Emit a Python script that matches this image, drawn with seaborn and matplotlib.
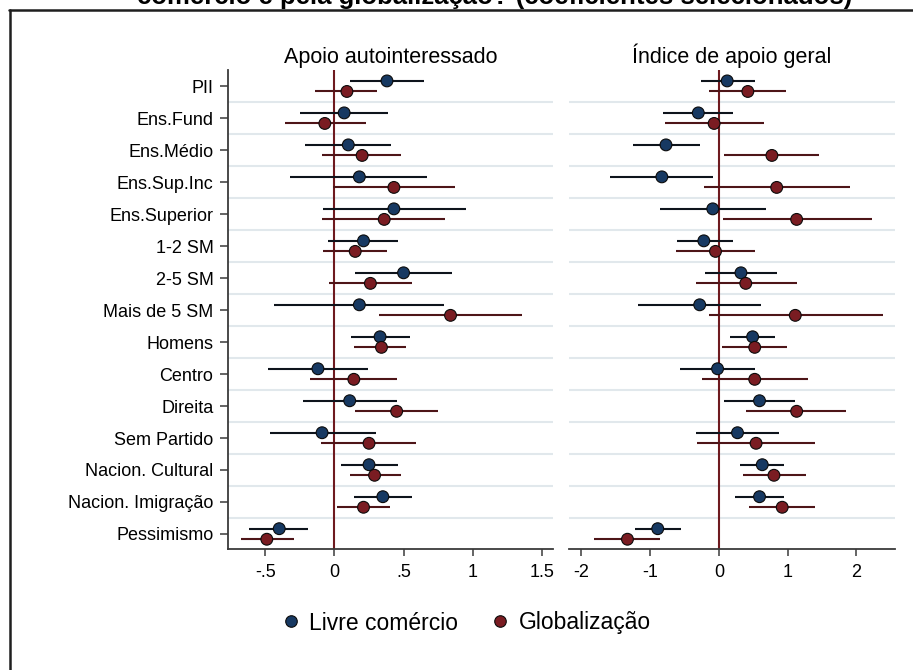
import numpy as np
import pandas as pd
import seaborn as sns
import matplotlib
matplotlib.use("Agg")
import matplotlib.pyplot as plt
from matplotlib.lines import Line2D

# Categories (top to bottom)
categories = ["PII", "Ens.Fund", "Ens.Médio", "Ens.Sup.Inc", "Ens.Superior",
              "1-2 SM", "2-5 SM", "Mais de 5 SM", "Homens", "Centro", "Direita",
              "Sem Partido", "Nacion. Cultural", "Nacion. Imigração", "Pessimismo"]
series_names = ["Livre comércio", "Globalização"]
panel_titles = ["Apoio autointeressado", "Índice de apoio geral"]

# Panel 1: Apoio autointeressado
livre_auto = [0.38, 0.07, 0.10, 0.18, 0.43, 0.21, 0.50, 0.18, 0.33, -0.12, 0.11, -0.09, 0.25, 0.35, -0.40]
livre_auto_lo = [0.11, -0.25, -0.21, -0.32, -0.08, -0.05, 0.15, -0.44, 0.12, -0.48, -0.23, -0.47, 0.05, 0.14, -0.62]
livre_auto_hi = [0.65, 0.39, 0.41, 0.67, 0.95, 0.46, 0.85, 0.79, 0.55, 0.24, 0.45, 0.30, 0.46, 0.56, -0.19]
glob_auto = [0.09, -0.07, 0.20, 0.43, 0.36, 0.15, 0.26, 0.84, 0.34, 0.14, 0.45, 0.25, 0.29, 0.21, -0.49]
glob_auto_lo = [-0.14, -0.36, -0.09, -0.01, -0.09, -0.08, -0.04, 0.32, 0.14, -0.18, 0.15, -0.10, 0.11, 0.02, -0.68]
glob_auto_hi = [0.31, 0.23, 0.48, 0.87, 0.80, 0.38, 0.56, 1.36, 0.52, 0.45, 0.75, 0.59, 0.48, 0.40, -0.29]

# Panel 2: Indice de apoio geral
livre_geral = [0.12, -0.30, -0.77, -0.83, -0.09, -0.22, 0.32, -0.28, 0.49, -0.02, 0.59, 0.27, 0.63, 0.59, -0.89]
livre_geral_lo = [-0.26, -0.81, -1.25, -1.58, -0.85, -0.61, -0.20, -1.17, 0.16, -0.56, 0.08, -0.33, 0.31, 0.24, -1.22]
livre_geral_hi = [0.52, 0.21, -0.27, -0.08, 0.68, 0.20, 0.84, 0.61, 0.82, 0.52, 1.10, 0.88, 0.95, 0.94, -0.55]
glob_geral = [0.42, -0.07, 0.77, 0.84, 1.13, -0.05, 0.39, 1.11, 0.52, 0.52, 1.13, 0.54, 0.80, 0.92, -1.33]
glob_geral_lo = [-0.14, -0.79, 0.08, -0.22, 0.06, -0.62, -0.34, -0.15, 0.05, -0.25, 0.40, -0.32, 0.35, 0.43, -1.81]
glob_geral_hi = [0.98, 0.66, 1.46, 1.91, 2.22, 0.52, 1.13, 2.38, 0.99, 1.29, 1.85, 1.40, 1.26, 1.40, -0.86]

left_ticks = [-0.5, 0, 0.5, 1, 1.5]
left_ticklabels = ["-.5", "0", ".5", "1", "1.5"]
right_ticks = [-2, -1, 0, 1, 2]
right_ticklabels = ["-2", "-1", "0", "1", "2"]

# long table
rows = []
panels = [
    (panel_titles[0], [(livre_auto, livre_auto_lo, livre_auto_hi), (glob_auto, glob_auto_lo, glob_auto_hi)]),
    (panel_titles[1], [(livre_geral, livre_geral_lo, livre_geral_hi), (glob_geral, glob_geral_lo, glob_geral_hi)]),
]
for pname, sers in panels:
    for sname, (c, lo, hi) in zip(series_names, sers):
        for i, cat in enumerate(categories):
            rows.append(dict(panel=pname, serie=sname, cat=cat, idx=i, coef=c[i], lo=lo[i], hi=hi[i]))
df = pd.DataFrame(rows)
offset = {"Livre comércio": -0.165, "Globalização": 0.165}
df["ypos"] = df["idx"] + df["serie"].map(offset)

sns.set_theme(style="white")
plt.rcParams["font.family"] = ["Liberation Sans", "DejaVu Sans"]
plt.rcParams["text.color"] = "#000000"
plt.rcParams["axes.titlecolor"] = "#000000"

dot_colors = {"Livre comércio": "#173962", "Globalização": "#7a1c22"}
ci_colors = {"Livre comércio": "#0e141c", "Globalização": "#4e1518"}
zero_color = "#6e1a1f"
grid_color = "#e1e8ec"
spine_color = "#3a3a3a"

fig = plt.figure(figsize=(9.13, 6.70), dpi=100)
W, H = 913, 670
ax1 = fig.add_axes([228 / W, 1 - 549 / H, 325 / W, 479 / H])
ax2 = fig.add_axes([569 / W, 1 - 549 / H, 326 / W, 479 / H])

for ax, pname, xlim, ticks, tlabels in [
    (ax1, panel_titles[0], (-0.771, 1.582), left_ticks, left_ticklabels),
    (ax2, panel_titles[1], (-2.18, 2.56), right_ticks, right_ticklabels),
]:
    sub = df[df["panel"] == pname]
    # grid between categories
    for g in np.arange(0.5, len(categories) - 1, 1.0):
        ax.axhline(g, color=grid_color, lw=1.5, zorder=0)
    ax.axvline(0, color=zero_color, lw=1.5, zorder=1)
    for sname in series_names:
        s = sub[sub["serie"] == sname]
        ax.hlines(s["ypos"], s["lo"], s["hi"], color=ci_colors[sname], lw=1.5, zorder=2)
    sns.scatterplot(data=sub, x="coef", y="ypos", hue="serie", palette=dot_colors,
                    s=72, edgecolor="#0b0b0b", linewidth=0.8, legend=False, zorder=3, ax=ax)
    ax.set_xlim(*xlim)
    ax.set_ylim(14.47, -0.506)
    ax.set_xticks(ticks)
    ax.set_xticklabels(tlabels)
    ax.set_xlabel("")
    ax.set_ylabel("")
    ax.set_title(pname, fontsize=15.5, pad=4.8, color="#000000")
    for side in ["top", "right"]:
        ax.spines[side].set_visible(False)
    ax.spines["bottom"].set_color(spine_color)
    ax.spines["bottom"].set_linewidth(1.3)
    ax.tick_params(axis="x", bottom=True, length=5, width=1.1, color=spine_color,
                   labelsize=13, pad=6, labelcolor="#000000")

ax1.set_yticks(range(len(categories)))
ax1.set_yticklabels(categories)
ax1.spines["left"].set_color(spine_color)
ax1.spines["left"].set_linewidth(1.3)
ax1.tick_params(axis="y", left=True, length=6, width=1.1, color=spine_color,
                labelsize=13, pad=4.5, labelcolor="#000000")
ax2.spines["left"].set_visible(False)
ax2.set_yticks([])

# cut-off title line (as in the source image) and frame
fig.text(495 / W, 1 - 4 / H, "comércio e pela globalização? (coeficientes selecionados)",
         ha="center", va="baseline", fontsize=18.5, fontweight="bold", color="#000000")
fig.add_artist(Line2D([9 / W, 1], [1 - 9.5 / H, 1 - 9.5 / H], color="#1e1e1e", lw=1.8,
                      transform=fig.transFigure))
fig.add_artist(Line2D([9.5 / W, 9.5 / W], [0, 1 - 9.5 / H], color="#1e1e1e", lw=1.8,
                      transform=fig.transFigure))

# legend
handles = [Line2D([], [], marker="o", linestyle="none", markersize=8.3,
                  markerfacecolor=dot_colors[n], markeredgecolor="#0b0b0b",
                  markeredgewidth=0.8) for n in series_names]
fig.legend(handles, series_names, loc="center", bbox_to_anchor=(465 / W, 1 - 623 / H),
           ncol=2, frameon=False, fontsize=16.5, handletextpad=0.3, columnspacing=1.35,
           handlelength=1.0)

fig.savefig("out.png", dpi=100)
